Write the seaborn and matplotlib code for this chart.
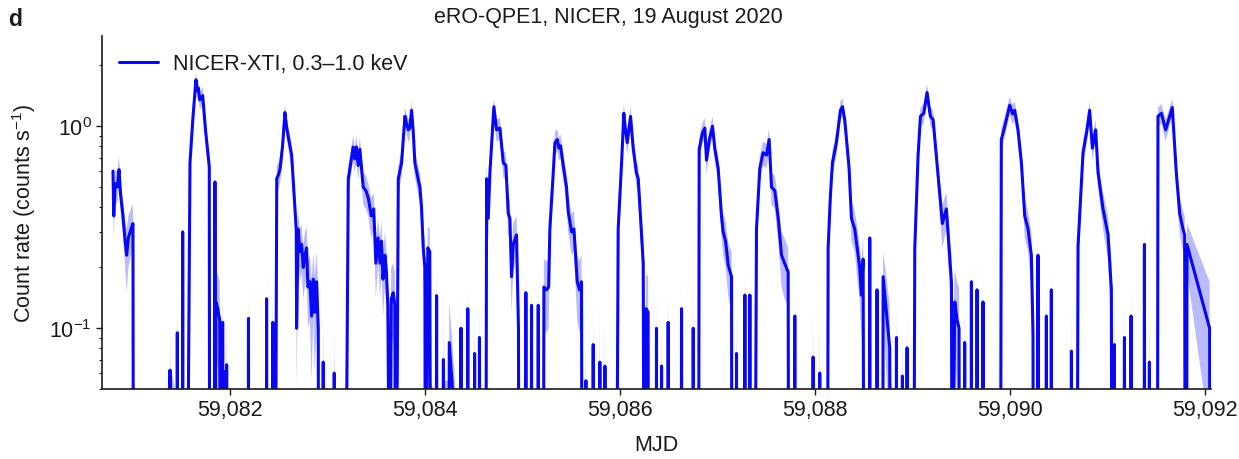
import numpy as np
import pandas as pd
import matplotlib
matplotlib.use("Agg")
import matplotlib.pyplot as plt
from matplotlib.ticker import MultipleLocator, FuncFormatter
import seaborn as sns

L = 0.005  # dropout / non-detection (below the plotted range)

mjd = [
    # flare 0 (start of observation)
    59080.800, 59080.808, 59080.822, 59080.845, 59080.862, 59080.878, 59080.900, 59080.925, 59080.940, 59080.958, 59080.985, 59081.005, 59081.010,
    # flare 1
    59081.382, 59081.385, 59081.388, 59081.457, 59081.460, 59081.463, 59081.512, 59081.515, 59081.518,
    59081.560, 59081.590, 59081.620, 59081.651, 59081.663, 59081.675, 59081.690, 59081.720, 59081.750, 59081.788, 59081.792,
    59081.843, 59081.846, 59081.850, 59081.856, 59081.875, 59081.895, 59081.900, 59081.922, 59081.925, 59081.928,
    59081.947, 59081.950, 59081.953, 59081.963, 59081.966, 59081.969,
    # flare 2
    59082.187, 59082.190, 59082.193, 59082.373, 59082.376, 59082.379, 59082.437, 59082.440, 59082.443,
    59082.465, 59082.480, 59082.500, 59082.515, 59082.540, 59082.564, 59082.580, 59082.598, 59082.633, 59082.667,
    59082.680, 59082.684, 59082.700, 59082.718, 59082.735, 59082.752, 59082.770, 59082.786, 59082.800, 59082.820,
    59082.838, 59082.855, 59082.870, 59082.889, 59082.906, 59082.910, 59082.954, 59082.957, 59082.960,
    # flare 3
    59083.067, 59083.070, 59083.073, 59083.185, 59083.214, 59083.240, 59083.264, 59083.280, 59083.298, 59083.315,
    59083.333, 59083.367, 59083.395, 59083.420, 59083.450, 59083.475, 59083.497, 59083.520, 59083.540, 59083.555,
    59083.570, 59083.590, 59083.605, 59083.620, 59083.640, 59083.655, 59083.675, 59083.692, 59083.700,
    # flare 4
    59083.705, 59083.727, 59083.761, 59083.795, 59083.810, 59083.830, 59083.845, 59083.863, 59083.880, 59083.897,
    59083.930, 59083.949, 59083.965, 59083.983, 59084.000, 59084.005, 59084.030, 59084.050, 59084.060,
    59084.115, 59084.120, 59084.125, 59084.187, 59084.190, 59084.193, 59084.247, 59084.250, 59084.290, 59084.320,
    59084.367, 59084.370, 59084.373, 59084.437, 59084.440, 59084.443, 59084.507, 59084.510, 59084.513,
    59084.557, 59084.560, 59084.563,
    # flare 5
    59084.625, 59084.633, 59084.650, 59084.667, 59084.708, 59084.735, 59084.770, 59084.804, 59084.831, 59084.855,
    59084.872, 59084.889, 59084.906, 59084.940, 59084.960, 59084.965, 59085.033, 59085.036, 59085.039,
    59085.091, 59085.094, 59085.097, 59085.160, 59085.163, 59085.166,
    # flare 6
    59085.215, 59085.221, 59085.248, 59085.270, 59085.282, 59085.317, 59085.334, 59085.358, 59085.375, 59085.392,
    59085.419, 59085.453, 59085.470, 59085.505, 59085.529, 59085.563, 59085.585, 59085.607, 59085.612,
    59085.649, 59085.652, 59085.655, 59085.724, 59085.727, 59085.730, 59085.792, 59085.795, 59085.798,
    59085.844, 59085.847, 59085.850,
    # flare 7
    59085.965, 59085.983, 59086.018, 59086.041, 59086.058, 59086.076, 59086.110, 59086.137, 59086.170, 59086.189,
    59086.223, 59086.240, 59086.250, 59086.270, 59086.290, 59086.295, 59086.373, 59086.376, 59086.379,
    59086.425, 59086.428, 59086.431, 59086.493, 59086.496, 59086.499, 59086.630, 59086.633, 59086.636,
    # flare 8
    59086.750, 59086.753, 59086.756, 59086.808, 59086.814, 59086.848, 59086.872, 59086.889, 59086.917, 59086.951,
    59086.975, 59087.009, 59087.043, 59087.060, 59087.085, 59087.112, 59087.146, 59087.150,
    59087.194, 59087.197, 59087.200, 59087.280, 59087.283, 59087.286, 59087.331, 59087.334, 59087.337,
    # flare 9
    59087.385, 59087.402, 59087.436, 59087.470, 59087.505, 59087.532, 59087.556, 59087.590, 59087.625, 59087.659,
    59087.690, 59087.727, 59087.732, 59087.792, 59087.795, 59087.798, 59087.980, 59087.983, 59087.986,
    59088.048, 59088.051, 59088.054,
    # flare 10
    59088.130, 59088.137, 59088.160, 59088.181, 59088.222, 59088.263, 59088.284, 59088.308, 59088.352, 59088.376,
    59088.410, 59088.444, 59088.461, 59088.478, 59088.496, 59088.505, 59088.561, 59088.564, 59088.567,
    59088.636, 59088.639, 59088.642, 59088.698, 59088.701, 59088.735, 59088.769, 59088.775,
    59088.835, 59088.838, 59088.841, 59088.896, 59088.899, 59088.902, 59088.944, 59088.947, 59088.950,
    # flare 11
    59089.015, 59089.026, 59089.060, 59089.084, 59089.118, 59089.152, 59089.186, 59089.214, 59089.265, 59089.309,
    59089.350, 59089.402, 59089.410, 59089.436, 59089.460, 59089.480, 59089.485,
    59089.535, 59089.538, 59089.541, 59089.604, 59089.607, 59089.610, 59089.662, 59089.665, 59089.668,
    59089.723, 59089.726, 59089.729,
    # flare 12
    59089.905, 59089.914, 59089.949, 59090.000, 59090.030, 59090.051, 59090.085, 59090.120, 59090.154, 59090.188,
    59090.222, 59090.239, 59090.243, 59090.287, 59090.290, 59090.293, 59090.373, 59090.376, 59090.379,
    59090.424, 59090.427, 59090.430,
    # flare 13
    59090.630, 59090.633, 59090.636, 59090.690, 59090.701, 59090.752, 59090.793, 59090.820, 59090.848, 59090.882,
    59090.906, 59090.957, 59091.009, 59091.043, 59091.048, 59091.071, 59091.074, 59091.077,
    59091.174, 59091.177, 59091.180, 59091.242, 59091.245, 59091.248, 59091.379, 59091.382, 59091.385,
    59091.430, 59091.433, 59091.436,
    # flare 14
    59091.515, 59091.521, 59091.556, 59091.600, 59091.641, 59091.668, 59091.709, 59091.744, 59091.778, 59091.795,
    59091.800, 59091.815, 59091.819, 59092.051, 59092.055,
]

rate = [
    # flare 0
    0.60, 0.36, 0.52, 0.50, 0.61, 0.46, 0.37, 0.27, 0.23, 0.28, 0.31, 0.33, L,
    # flare 1
    L, 0.062, L, L, 0.095, L, L, 0.30, L,
    L, 0.66, 1.10, 1.70, 1.50, 1.55, 1.35, 1.42, 0.95, 0.63, L,
    L, 0.53, L, 0.135, 0.125, 0.110, L, L, 0.107, L,
    L, 0.061, L, L, 0.066, L,
    # flare 2
    L, 0.112, L, L, 0.140, L, L, 0.107, L,
    L, 0.55, 0.58, 0.62, 0.80, 1.17, 1.00, 0.89, 0.72, 0.39,
    0.31, 0.10, 0.31, 0.24, 0.26, 0.20, 0.23, 0.25, 0.16, 0.17,
    0.115, 0.175, 0.12, 0.17, 0.10, L, L, 0.068, L,
    # flare 3
    L, 0.060, L, L, 0.55, 0.66, 0.79, 0.69, 0.79, 0.64,
    0.77, 0.50, 0.48, 0.44, 0.36, 0.39, 0.21, 0.28, 0.21, 0.27,
    0.175, 0.23, 0.19, 0.13, L, 0.14, 0.15, 0.13, L,
    # flare 4
    L, 0.55, 0.66, 1.12, 1.04, 0.96, 0.98, 1.20, 0.95, 0.66,
    0.55, 0.50, 0.40, 0.25, 0.20, L, 0.25, 0.24, L,
    L, 0.145, L, L, 0.070, L, L, 0.085, 0.045, L,
    L, 0.10, L, L, 0.125, L, L, 0.075, L,
    L, 0.09, L,
    # flare 5
    L, 0.55, 0.35, 0.59, 1.25, 0.96, 0.98, 0.66, 0.64, 0.37,
    0.35, 0.18, 0.26, 0.29, 0.10, L, L, 0.15, L,
    L, 0.13, L, L, 0.13, L,
    # flare 6
    L, 0.16, 0.155, 0.16, 0.31, 0.59, 0.83, 0.86, 0.78, 0.80,
    0.64, 0.50, 0.38, 0.30, 0.31, 0.17, 0.155, 0.17, L,
    L, 0.055, L, L, 0.083, L, L, 0.068, L,
    L, 0.065, L,
    # flare 7
    L, 0.31, 0.66, 1.16, 0.96, 0.83, 1.12, 0.78, 0.59, 0.55,
    0.29, 0.21, L, 0.125, 0.12, L, L, 0.10, L,
    L, 0.065, L, L, 0.107, L, L, 0.125, L,
    # flare 8
    L, 0.10, L, L, 0.77, 0.93, 0.98, 0.68, 0.85, 1.00,
    0.77, 0.62, 0.36, 0.30, 0.27, 0.205, 0.18, L,
    L, 0.075, L, L, 0.146, L, L, 0.146, L,
    # flare 9
    L, 0.31, 0.62, 0.74, 0.72, 0.86, 0.50, 0.48, 0.35, 0.23,
    0.21, 0.19, L, L, 0.115, L, L, 0.072, L,
    L, 0.060, L,
    # flare 10
    L, 0.25, 0.45, 0.66, 0.83, 1.20, 1.25, 1.07, 0.62, 0.35,
    0.31, 0.23, 0.20, 0.146, 0.22, L, L, 0.28, L,
    L, 0.155, L, L, 0.18, 0.12, 0.08, L,
    L, 0.09, L, L, 0.058, L, L, 0.08, L,
    # flare 11
    L, 0.25, 0.72, 1.12, 1.16, 1.47, 1.12, 1.08, 0.57, 0.33,
    0.39, 0.17, L, 0.135, 0.11, 0.10, L,
    L, 0.085, L, L, 0.17, L, L, 0.155, L,
    L, 0.135, L,
    # flare 12
    L, 0.86, 1.00, 1.27, 1.15, 1.20, 0.96, 0.66, 0.36, 0.31,
    0.23, 0.093, L, L, 0.23, L, L, 0.115, L,
    L, 0.155, L,
    # flare 13
    L, 0.077, L, L, 0.256, 0.74, 0.96, 1.20, 0.78, 0.96,
    0.59, 0.39, 0.29, 0.155, L, L, 0.083, L,
    L, 0.09, L, L, 0.115, L, L, 0.26, L,
    L, 0.068, L,
    # flare 14
    L, 1.12, 1.16, 0.96, 1.12, 1.24, 0.59, 0.37, 0.31, 0.29,
    L, L, 0.26, 0.10, L,
]

rate_err = [
    # flare 0
    0.10, 0.08, 0.09, 0.09, 0.10, 0.08, 0.07, 0.07, 0.08, 0.08, 0.08, 0.08, 0.04,
    # flare 1
    0.04, 0.04, 0.06, 0.04, 0.05, 0.04, 0.04, 0.08, 0.04,
    0.04, 0.10, 0.13, 0.16, 0.15, 0.15, 0.14, 0.14, 0.12, 0.10, 0.04,
    0.04, 0.10, 0.04, 0.06, 0.06, 0.06, 0.05, 0.05, 0.06, 0.05,
    0.05, 0.05, 0.05, 0.05, 0.05, 0.04,
    # flare 2
    0.04, 0.05, 0.04, 0.04, 0.06, 0.04, 0.04, 0.06, 0.04,
    0.04, 0.09, 0.09, 0.09, 0.11, 0.13, 0.12, 0.11, 0.10, 0.08,
    0.07, 0.05, 0.07, 0.07, 0.07, 0.06, 0.07, 0.07, 0.06, 0.06,
    0.06, 0.06, 0.06, 0.07, 0.06, 0.04, 0.04, 0.05, 0.04,
    # flare 3
    0.04, 0.05, 0.04, 0.04, 0.09, 0.10, 0.11, 0.10, 0.11, 0.10,
    0.11, 0.09, 0.09, 0.08, 0.08, 0.08, 0.07, 0.07, 0.07, 0.07,
    0.06, 0.07, 0.06, 0.06, 0.05, 0.06, 0.06, 0.06, 0.04,
    # flare 4
    0.04, 0.09, 0.10, 0.12, 0.12, 0.12, 0.12, 0.13, 0.12, 0.10,
    0.09, 0.09, 0.08, 0.07, 0.07, 0.04, 0.07, 0.07, 0.05,
    0.04, 0.06, 0.04, 0.04, 0.05, 0.05, 0.05, 0.05, 0.03, 0.04,
    0.04, 0.05, 0.04, 0.04, 0.06, 0.04, 0.04, 0.05, 0.04,
    0.04, 0.05, 0.04,
    # flare 5
    0.04, 0.09, 0.08, 0.09, 0.13, 0.12, 0.12, 0.10, 0.10, 0.08,
    0.08, 0.06, 0.07, 0.07, 0.05, 0.04, 0.04, 0.06, 0.04,
    0.04, 0.06, 0.04, 0.04, 0.06, 0.04,
    # flare 6
    0.04, 0.06, 0.06, 0.06, 0.08, 0.09, 0.11, 0.11, 0.10, 0.11,
    0.10, 0.09, 0.08, 0.07, 0.07, 0.06, 0.06, 0.06, 0.04,
    0.04, 0.04, 0.04, 0.04, 0.05, 0.04, 0.04, 0.05, 0.04,
    0.04, 0.05, 0.04,
    # flare 7
    0.04, 0.08, 0.10, 0.13, 0.12, 0.11, 0.13, 0.10, 0.09, 0.09,
    0.07, 0.07, 0.04, 0.06, 0.06, 0.04, 0.04, 0.05, 0.04,
    0.04, 0.05, 0.04, 0.04, 0.06, 0.04, 0.04, 0.06, 0.04,
    # flare 8
    0.04, 0.06, 0.04, 0.04, 0.10, 0.11, 0.12, 0.10, 0.11, 0.12,
    0.10, 0.09, 0.08, 0.07, 0.07, 0.06, 0.06, 0.04,
    0.04, 0.05, 0.04, 0.04, 0.06, 0.04, 0.04, 0.06, 0.04,
    # flare 9
    0.04, 0.08, 0.09, 0.10, 0.10, 0.11, 0.09, 0.09, 0.08, 0.07,
    0.07, 0.06, 0.04, 0.04, 0.06, 0.04, 0.04, 0.05, 0.04,
    0.04, 0.05, 0.04,
    # flare 10
    0.04, 0.07, 0.08, 0.10, 0.11, 0.13, 0.13, 0.12, 0.09, 0.08,
    0.07, 0.07, 0.06, 0.06, 0.07, 0.04, 0.04, 0.08, 0.04,
    0.04, 0.06, 0.04, 0.04, 0.06, 0.06, 0.05, 0.05,
    0.04, 0.05, 0.04, 0.04, 0.04, 0.04, 0.04, 0.05, 0.04,
    # flare 11
    0.04, 0.07, 0.10, 0.12, 0.13, 0.15, 0.12, 0.12, 0.09, 0.08,
    0.08, 0.06, 0.04, 0.06, 0.06, 0.06, 0.04,
    0.04, 0.05, 0.04, 0.04, 0.06, 0.04, 0.04, 0.06, 0.04,
    0.04, 0.06, 0.04,
    # flare 12
    0.04, 0.11, 0.12, 0.13, 0.13, 0.13, 0.12, 0.10, 0.08, 0.07,
    0.07, 0.05, 0.04, 0.04, 0.07, 0.04, 0.04, 0.06, 0.04,
    0.04, 0.06, 0.04,
    # flare 13
    0.04, 0.05, 0.04, 0.04, 0.07, 0.10, 0.12, 0.13, 0.10, 0.12,
    0.09, 0.08, 0.07, 0.06, 0.04, 0.04, 0.05, 0.04,
    0.04, 0.05, 0.04, 0.04, 0.06, 0.04, 0.04, 0.08, 0.04,
    0.04, 0.05, 0.04,
    # flare 14
    0.04, 0.12, 0.13, 0.12, 0.12, 0.13, 0.09, 0.08, 0.07, 0.07,
    0.04, 0.04, 0.07, 0.07, 0.04,
]

assert len(mjd) == len(rate) == len(rate_err), (len(mjd), len(rate), len(rate_err))

legend_label = "NICER-XTI, 0.3\u20131.0 keV"
title = "eRO-QPE1, NICER, 19 August 2020"

sns.set_style("ticks")
plt.rcParams["font.family"] = ["Liberation Sans", "DejaVu Sans"]
plt.rcParams["mathtext.fontset"] = "custom"
plt.rcParams["mathtext.rm"] = "Liberation Sans"
plt.rcParams["mathtext.it"] = "Liberation Sans:italic"
plt.rcParams["mathtext.bf"] = "Liberation Sans:bold"
TXT = "#1a1a1a"
plt.rcParams["text.color"] = TXT
plt.rcParams["axes.labelcolor"] = TXT
plt.rcParams["xtick.color"] = TXT
plt.rcParams["ytick.color"] = TXT

FS = 15.5
fig, ax = plt.subplots(figsize=(12.39, 4.6), dpi=100)
fig.subplots_adjust(left=0.0823, right=0.977, top=0.9196, bottom=0.152)

df = pd.DataFrame({"MJD": mjd, "rate": rate, "err": rate_err})
lower = np.clip(df["rate"] - df["err"], 1e-3, None)
upper = df["rate"] + df["err"]
ax.fill_between(df["MJD"], lower, upper, color="#2a2aff", alpha=0.32, lw=0)
sns.lineplot(data=df, x="MJD", y="rate", estimator=None, sort=False,
             color="#0808f5", lw=2.2, ax=ax, label=legend_label)

ax.set_yscale("log")
ax.set_ylim(0.05, 2.8)
ax.set_xlim(59080.687, 59092.06)
ax.xaxis.set_major_locator(MultipleLocator(2))
ax.xaxis.set_major_formatter(FuncFormatter(lambda v, p: f"{v:,.0f}"))

ax.tick_params(axis="both", which="major", direction="out", length=4, width=1.0,
               labelsize=FS)
ax.tick_params(axis="y", which="minor", direction="out", length=2.5, width=0.8)
for s in ["left", "bottom"]:
    ax.spines[s].set_linewidth(1.2)
    ax.spines[s].set_color(TXT)
sns.despine(ax=ax)

ax.set_xlabel("MJD", fontsize=FS, labelpad=10)
ax.set_ylabel("Count rate (counts s$^{-1}$)", fontsize=FS, labelpad=8)

ax.legend(loc="upper left", frameon=False, fontsize=FS, handlelength=1.8,
          handletextpad=0.7, borderaxespad=0.4)

fig.text(608 / 1239, 1 - 18 / 460, title, ha="center", va="center", fontsize=FS)
fig.text(8 / 1239, 1 - 19 / 460, "d", ha="left", va="center", fontsize=FS + 1,
         fontweight="bold")

fig.savefig("out.png", dpi=100)
